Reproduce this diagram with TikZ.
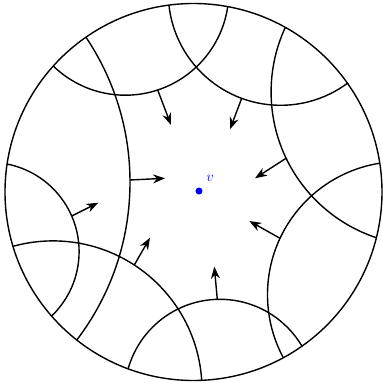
\documentclass[tikz,border=0pt]{standalone}
\usetikzlibrary{arrows.meta}
\definecolor{PointBlue}{RGB}{0,0,255}
\tikzset{>={Stealth[length=12pt,width=9pt]},geo/.style={line width=1.4pt},
 flow/.style={line width=1.4pt,->},rim/.style={line width=1.4pt}}

\begin{document}
\begin{tikzpicture}[x=1pt,y=1pt]
\useasboundingbox (-193.5,-191) rectangle (189.5,192);
% geodesic arcs, clipped to the disk
\begin{scope}
\clip (0,0) circle (188.5pt);
\foreach \cx/\cy/\r in {-68.2/200.3/103.5,87.1/199.0/112.3,-324.0/9.8/260.5,
 231.0/100.0/153.4,-203.6/-59.6/89.2,-140.5/-197.9/149.0,26.4/-202.6/95.3,
 207.1/-102.7/133.1}
 \draw[geo] (\cx,\cy) circle (\r pt);
\end{scope}
\draw[rim] (0,0) circle (188.5pt);
% arrows towards v
\foreach \i/\ax/\ay/\bx/\by in {1/-35.8/102/-22.5/67,2/48.2/93.7/36.5/62.7,
 3/92.5/33.7/61.5/13.7,4/86.5/-46.3/55.8/-29,5/23.8/-107.3/20.8/-74.7,
 6/-59.2/-73/-43.5/-45.7,7/-121.8/-24/-95.2/-10.7,8/-63.5/12/-28.5/13.7}{
 \coordinate (s\i) at (\ax,\ay);
 \coordinate (t\i) at (\bx,\by);
 \draw[flow] (s\i) -- (t\i);
}
\node[circle,fill=PointBlue,inner sep=0pt,minimum size=7pt] (v) at (5.5,1) {};
\node[text=PointBlue,font=\fontsize{15}{18}\selectfont] (vlabel) at (16.5,13.5) {$v$};
\end{tikzpicture}
\end{document}
